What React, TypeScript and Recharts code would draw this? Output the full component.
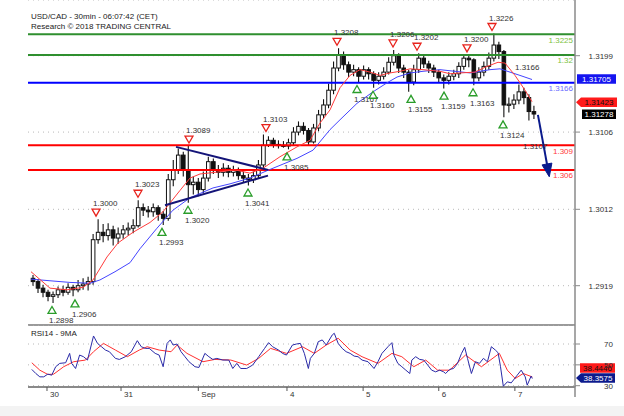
import React from 'react';
import { ComposedChart, Bar, Scatter, XAxis, YAxis, CartesianGrid, ReferenceLine } from 'recharts';

const FONT = "'Liberation Sans', Arial, sans-serif";

// ---------- candles (30-min USD/CAD, sampled) ----------
const opens = [1.2928,1.2924,1.2916,1.2911,1.2906,1.2908,1.2914,1.2911,1.2917,1.2914,1.2919,1.2921,1.2924,1.2975,1.2984,1.2980,1.2987,1.2977,1.2982,1.2987,1.2989,1.2992,1.3014,1.3011,1.3009,1.3014,1.3006,1.3001,1.3048,1.3060,1.3078,1.3060,1.3042,1.3045,1.3036,1.3050,1.3070,1.3060,1.3057,1.3062,1.3057,1.3060,1.3053,1.3050,1.3048,1.3053,1.3066,1.3090,1.3096,1.3091,1.3090,1.3089,1.3093,1.3106,1.3113,1.3108,1.3094,1.3111,1.3127,1.3139,1.3157,1.3184,1.3200,1.3188,1.3179,1.3182,1.3174,1.3182,1.3177,1.3169,1.3174,1.3179,1.3191,1.3199,1.3184,1.3179,1.3167,1.3182,1.3196,1.3189,1.3184,1.3179,1.3172,1.3169,1.3174,1.3177,1.3186,1.3196,1.3194,1.3172,1.3179,1.3186,1.3196,1.3212,1.3204,1.3139,1.3140,1.3145,1.3155,1.3148,1.3131];
const closes = [1.2924,1.2916,1.2911,1.2906,1.2908,1.2914,1.2911,1.2917,1.2914,1.2919,1.2921,1.2924,1.2975,1.2984,1.2980,1.2987,1.2977,1.2982,1.2987,1.2989,1.2992,1.3014,1.3011,1.3009,1.3014,1.3006,1.3001,1.3048,1.3060,1.3078,1.3060,1.3042,1.3045,1.3036,1.3050,1.3070,1.3060,1.3057,1.3062,1.3057,1.3060,1.3053,1.3050,1.3048,1.3053,1.3066,1.3090,1.3096,1.3091,1.3090,1.3089,1.3093,1.3106,1.3113,1.3108,1.3094,1.3111,1.3127,1.3139,1.3157,1.3184,1.3200,1.3188,1.3179,1.3182,1.3174,1.3182,1.3177,1.3169,1.3174,1.3179,1.3191,1.3199,1.3184,1.3179,1.3167,1.3182,1.3196,1.3189,1.3184,1.3179,1.3172,1.3169,1.3174,1.3177,1.3186,1.3196,1.3194,1.3172,1.3179,1.3186,1.3196,1.3212,1.3204,1.3139,1.3140,1.3145,1.3155,1.3148,1.3131,1.3128];
const highs = [1.2932,1.2927,1.2920,1.2914,1.2912,1.2918,1.2919,1.2922,1.2920,1.2926,1.2928,1.2930,1.2982,1.3000,1.2994,1.2995,1.2992,1.2990,1.2993,1.2996,1.3000,1.3023,1.3019,1.3016,1.3019,1.3017,1.3010,1.3055,1.3072,1.3086,1.3082,1.3089,1.3052,1.3050,1.3058,1.3076,1.3074,1.3066,1.3068,1.3066,1.3065,1.3063,1.3058,1.3055,1.3058,1.3072,1.3103,1.3101,1.3099,1.3096,1.3095,1.3098,1.3112,1.3119,1.3118,1.3111,1.3116,1.3133,1.3146,1.3165,1.3192,1.3208,1.3204,1.3192,1.3188,1.3185,1.3187,1.3185,1.3180,1.3179,1.3185,1.3197,1.3206,1.3202,1.3188,1.3182,1.3188,1.3202,1.3199,1.3193,1.3188,1.3182,1.3176,1.3179,1.3182,1.3191,1.3200,1.3199,1.3196,1.3185,1.3192,1.3203,1.3226,1.3216,1.3206,1.3148,1.3152,1.3164,1.3160,1.3152,1.3138];
const lows = [1.2919,1.2910,1.2905,1.2900,1.2898,1.2904,1.2906,1.2908,1.2906,1.2911,1.2914,1.2913,1.2920,1.2970,1.2972,1.2974,1.2968,1.2970,1.2976,1.2980,1.2983,1.2990,1.3004,1.3002,1.3003,1.2998,1.2993,1.2998,1.3040,1.3055,1.3052,1.3020,1.3030,1.3028,1.3032,1.3046,1.3055,1.3050,1.3052,1.3051,1.3052,1.3048,1.3044,1.3041,1.3044,1.3050,1.3062,1.3088,1.3087,1.3086,1.3087,1.3085,1.3090,1.3102,1.3103,1.3090,1.3092,1.3107,1.3122,1.3135,1.3152,1.3180,1.3182,1.3173,1.3174,1.3167,1.3170,1.3170,1.3160,1.3164,1.3170,1.3176,1.3187,1.3178,1.3172,1.3155,1.3163,1.3178,1.3184,1.3178,1.3173,1.3166,1.3159,1.3164,1.3169,1.3172,1.3182,1.3185,1.3163,1.3168,1.3174,1.3182,1.3192,1.3195,1.3124,1.3130,1.3134,1.3140,1.3140,1.3120,1.3122];

// ---------- moving averages on price ----------
const redMaT = [0.6,4.39,7.79,10.98,12.98,15.77,17.97,20.96,24.36,26.95,30.35,32.34,34.34,37.33,41.33,44.32,46.92,50.31,53.7,56.3,58.29,60.29,62.29,64.28,66.28,68.28,70.27,72.27,74.27,76.26,78.86,82.25,84.25,86.24,89.24,91.24,93.83,95.23,97.22,99.22,100.62];
const redMaP = [1.2936,1.2916,1.2914,1.2917,1.2926,1.2954,1.2971,1.2984,1.2996,1.3009,1.3035,1.3050,1.3055,1.3057,1.3060,1.3056,1.3062,1.3076,1.3088,1.3096,1.3117,1.3133,1.3160,1.3175,1.3182,1.3179,1.3175,1.3178,1.3180,1.3183,1.3182,1.3180,1.3177,1.3178,1.3179,1.3185,1.3191,1.3190,1.3175,1.3157,1.3143];
const blueMaT = [0.6,4.39,8.38,12.38,14.37,17.37,20.36,22.36,25.75,28.95,32.34,36.93,40.33,44.32,47.71,53.7,56.9,60.29,62.29,65.68,68.88,71.67,73.67,76.26,78.86,82.25,88.24,92.23,94.23,96.23,98.22,100.62];
const blueMaP = [1.2927,1.2925,1.2923,1.2922,1.2926,1.2936,1.2947,1.2964,1.2989,1.3011,1.3026,1.3038,1.3043,1.3050,1.3059,1.3074,1.3084,1.3109,1.3121,1.3141,1.3155,1.3166,1.3173,1.3178,1.3180,1.3182,1.3178,1.3182,1.3183,1.3179,1.3175,1.3170];

// ---------- pivots ----------
const highT = [13.58, 21.96, 32.14, 47.51, 61.69, 72.87, 77.66, 87.64, 92.63];
const highP = [1.3000, 1.3023, 1.3089, 1.3103, 1.3208, 1.3206, 1.3202, 1.3200, 1.3226];
const lowT = [4.79, 9.38, 26.75, 31.94, 43.92, 51.71, 65.68, 68.88, 76.46, 83.05, 88.84, 94.83];
const lowP = [1.2898, 1.2906, 1.2993, 1.3020, 1.3041, 1.3085, 1.3167, 1.3160, 1.3155, 1.3159, 1.3163, 1.3124];
const noteT = [97.22, 98.82];
const noteP = [1.31852, 1.30891];
const noteText = ['1.3166', '1.3107'];

// ---------- drawings ----------
const wedgeUpT = [29.55, 47.91];
const wedgeUpP = [1.3088, 1.3060];
const wedgeLoT = [27.35, 47.91];
const wedgeLoP = [1.3017, 1.3053];
const arrowT = [101.8, 104.0];
const arrowP = [1.3127, 1.3054];

const levelValues = [1.3225, 1.32, 1.3166, 1.309, 1.306];
const levelLabels = ['1.3225', '1.32', '1.3166', '1.309', '1.306'];

// ---------- axes ----------
const priceTicks = [1.2919, 1.3012, 1.3106, 1.3199];
const dayT = [3.79, 18.57, 34.0, 51.7, 66.9, 82.0, 97.2];
const dayLabels = ['30', '31', 'Sep', '4', '5', '6', '7'];
const rsiTicks = [30, 50, 70];

// ---------- RSI ----------
const rsiT = [0.76,1.56,2.36,3.15,3.95,4.74,5.53,6.33,7.52,8.31,8.71,9.50,10.30,11.09,11.88,13.08,13.87,14.67,15.46,16.25,17.45,18.24,19.43,20.62,21.82,22.61,23.40,24.20,25.39,26.18,26.98,27.77,28.41,28.96,29.76,30.55,31.34,32.14,33.33,34.13,35.31,36.11,36.90,37.70,38.89,40.08,40.88,41.68,42.46,43.66,44.85,46.05,47.23,48.03,48.82,50.02,50.80,51.60,52.79,53.59,54.37,55.17,55.97,56.37,57.16,57.94,58.74,59.54,60.74,61.14,61.92,62.72,63.51,64.31,65.11,65.89,66.69,67.88,69.08,69.86,70.66,71.86,72.65,73.05,73.83,74.63,75.43,76.22,76.62,77.40,78.20,79.00,79.80,80.58,81.38,82.18,82.97,83.37,84.17,84.95,85.75,86.55,87.18,87.74,88.52,89.32,90.12,90.92,91.72,92.50,93.30,93.85,94.33,94.89,95.69,96.47,97.67,98.46,99.26,99.66,100.44,100.68];
const rsiV = [45.6,41.7,38.5,38.5,41.1,40.1,48.2,51.4,52.0,61.0,51.4,46.5,59.4,57.8,54.6,77.7,70.6,67.4,64.2,62.6,56.2,55.2,57.8,62.6,73.2,67.4,65.8,65.8,61.0,59.4,48.2,70.6,73.9,69.0,70.0,62.6,57.8,53.0,48.2,47.5,61.0,57.8,55.2,56.2,54.6,54.6,46.5,51.4,46.5,46.5,49.8,57.8,65.8,71.3,67.4,64.2,61.0,59.4,69.0,70.0,70.6,61.0,46.5,56.2,61.0,72.2,73.9,69.0,78.7,80.3,70.6,65.8,62.6,61.0,58.4,57.8,54.6,53.0,46.5,53.0,61.0,67.4,71.3,59.4,51.4,48.2,44.9,41.7,54.6,57.8,55.2,54.6,49.8,44.9,43.3,44.9,43.3,41.7,45.6,46.5,51.4,61.0,66.8,56.2,41.7,53.0,51.4,56.2,53.0,67.4,64.2,61.6,48.2,29.5,33.7,32.7,40.1,44.9,38.5,30.5,39.2,36.9];
const rsiMaT = [0.76,2.36,3.95,5.13,7.12,9.11,11.49,13.08,15.06,17.45,19.83,22.21,23.80,26.18,28.56,29.76,31.74,34.92,37.30,40.48,43.66,46.05,48.43,51.60,54.78,57.16,59.54,61.92,64.31,66.69,69.86,72.65,74.63,77.01,79.40,81.78,84.17,87.34,90.52,94.10,95.69,97.27,98.86,100.68];
const rsiMaV = [52.0,44.9,40.8,41.1,48.2,53.0,54.6,62.6,70.6,64.2,57.8,64.2,67.4,64.2,62.6,69.0,61.0,53.0,55.2,54.6,49.8,56.2,65.8,61.0,67.4,61.0,69.0,75.5,64.2,57.8,51.4,61.0,57.8,48.2,54.6,44.9,44.9,59.4,48.2,61.0,44.9,36.9,41.7,38.4];

// ---------- layout / style constants ----------
const X_DOMAIN: [number, number] = [0, 109.2];
const PRICE_DOMAIN: [number, number] = [1.287115, 1.326681];
const RSI_DOMAIN: [number, number] = [28.75, 88.23];
const levelColors = ['#2f8f2f', '#2f8f2f', '#0000ff', '#ff0000', '#ff0000'];
const levelTextColors = ['#7cc243', '#7cc243', '#6a6aff', '#ff3a3a', '#ff3a3a'];

const candleData = closes.map((c, i) => ({
  x: i + 1,
  open: opens[i],
  high: highs[i],
  low: lows[i],
  close: c,
  range: [lows[i], highs[i]],
}));
const pts = (ts: number[], vs: number[], extra?: (i: number) => any) =>
  ts.map((t, i) => ({ x: t, y: vs[i], ...(extra ? extra(i) : {}) })).filter((p) => p.y != null);

const redMa = pts(redMaT, redMaP);
const blueMa = pts(blueMaT, blueMaP);
const highPts = pts(highT, highP, (i) => ({ label: highP[i].toFixed(4) }));
const lowPts = pts(lowT, lowP, (i) => ({ label: lowP[i].toFixed(4) }));
const notePts = pts(noteT, noteP, (i) => ({ label: noteText[i] }));
const wedgeUp = pts(wedgeUpT, wedgeUpP);
const wedgeLo = pts(wedgeLoT, wedgeLoP);
const arrowPts = pts(arrowT, arrowP, (i) => ({ head: i === arrowT.length - 1 }));
const rsiPts = pts(rsiT, rsiV);
const rsiMaPts = pts(rsiMaT, rsiMaV);

const Empty = () => <g />;

function Candle(props: any) {
  const { x, y, width, height, payload } = props;
  if (!payload || height == null || isNaN(y)) return <g />;
  const top = Math.min(y, y + height);
  const h = Math.abs(height);
  const span = payload.high - payload.low;
  const k = span > 0 ? h / span : 0;
  const cx = x + width / 2;
  const yO = top + (payload.high - payload.open) * k;
  const yC = top + (payload.high - payload.close) * k;
  const bTop = Math.min(yO, yC);
  const bH = Math.max(1.2, Math.abs(yO - yC));
  const up = payload.close >= payload.open;
  return (
    <g>
      <line x1={cx} x2={cx} y1={top} y2={top + h} stroke="#111" strokeWidth={1.1} />
      <rect x={cx - 1.8} y={bTop} width={3.6} height={bH} fill={up ? '#fff' : '#111'} stroke="#111" strokeWidth={1} />
    </g>
  );
}

function HighMarker(props: any) {
  const { cx, cy, payload } = props;
  return (
    <g>
      <polygon points={`${cx - 4},${cy - 10} ${cx + 4},${cy - 10} ${cx},${cy - 3}`} fill="#fff" stroke="#e8231c" strokeWidth={1.3} />
      <text x={cx - 3} y={cy - 13} fontSize={8} fontFamily={FONT} fill="#333">{payload.label}</text>
    </g>
  );
}

function LowMarker(props: any) {
  const { cx, cy, payload } = props;
  return (
    <g>
      <polygon points={`${cx - 4},${cy + 10.5} ${cx + 4},${cy + 10.5} ${cx},${cy + 3.5}`} fill="#fff" stroke="#2a9d2a" strokeWidth={1.3} />
      <text x={cx - 3} y={cy + 20.5} fontSize={8} fontFamily={FONT} fill="#333">{payload.label}</text>
    </g>
  );
}

function NoteText(props: any) {
  const { cx, cy, payload } = props;
  return <text x={cx} y={cy + 3} fontSize={8} fontFamily={FONT} fill="#333">{payload.label}</text>;
}

function ArrowHead(props: any) {
  const { cx, cy, payload } = props;
  if (!payload || !payload.head) return <g />;
  const ux = 0.18, uy = 0.983;
  const px = 0.983, py = -0.18;
  const tx = cx + ux * 2, ty = cy + uy * 2;
  const bx = tx - ux * 13, by = ty - uy * 13;
  return (
    <polygon
      points={`${tx},${ty} ${bx + px * 5},${by + py * 5} ${bx - px * 5},${by - py * 5}`}
      fill="#0a1a8c"
      stroke="#0a1a8c"
    />
  );
}

function LineTag(props: any) {
  const { viewBox, text, color } = props;
  if (!viewBox) return <g />;
  return (
    <text x={viewBox.x + viewBox.width - 2} y={viewBox.y + 8.5} textAnchor="end" fontSize={8} fontFamily={FONT} fill={color}>
      {text}
    </text>
  );
}

function AxisBox(props: any) {
  const { viewBox, text, bg, fg, arrow, dx = 2, dy = 0, w = 40 } = props;
  if (!viewBox) return <g />;
  const left = viewBox.x + viewBox.width + dx;
  const cy = viewBox.y + dy;
  const h = 9.5;
  const d = arrow
    ? `M${left},${cy} L${left + 5},${cy - h / 2} L${left + w},${cy - h / 2} L${left + w},${cy + h / 2} L${left + 5},${cy + h / 2} Z`
    : `M${left},${cy - h / 2} H${left + w} V${cy + h / 2} H${left} Z`;
  const tx = arrow ? left + 5 + (w - 5) / 2 : left + w / 2;
  return (
    <g>
      <path d={d} fill={bg} />
      <text x={tx} y={cy + 3} textAnchor="middle" fontSize={8} fontFamily={FONT} fill={fg}>
        {text}
      </text>
    </g>
  );
}

function RightTick(props: any) {
  const { x, y, payload, decimals } = props;
  return (
    <text x={x + 30} y={y + 3} textAnchor="end" fontSize={8} fontFamily={FONT} fill="#333">
      {Number(payload.value).toFixed(decimals)}
    </text>
  );
}

function DayTick(props: any) {
  const { x, y, payload } = props;
  const idx = dayT.indexOf(payload.value);
  return (
    <text x={x + 3} y={y + 5.5} fontSize={8} fontFamily={FONT} fill="#333">
      {idx >= 0 ? dayLabels[idx] : ''}
    </text>
  );
}

export default function App() {
  return (
    <div style={{ position: 'fixed', left: 0, top: 0, width: 624, height: 416, background: '#fff', overflow: 'hidden' }}>
      <div style={{ position: 'absolute', left: 0, top: 0 }}>
        <ComposedChart width={624} height={327} data={candleData} margin={{ top: 0, right: 0, bottom: 0, left: 28 }}>
          <CartesianGrid vertical={false} stroke="#b8b8b8" strokeDasharray="1 4" />
          <XAxis dataKey="x" type="number" domain={X_DOMAIN} height={2} tick={false} tickLine={false} axisLine={{ stroke: '#9a9a9a', strokeWidth: 2 }} />
          <YAxis
            orientation="right"
            type="number"
            domain={PRICE_DOMAIN}
            ticks={priceTicks}
            interval={0}
            width={49}
            tickSize={5}
            tickMargin={3}
            axisLine={{ stroke: '#8a8a8a', strokeWidth: 1.5 }}
            tickLine={{ stroke: '#8a8a8a' }}
            tick={<RightTick decimals={4} />}
          />
          {levelValues.map((v, i) => (
            <ReferenceLine
              key={'lv' + i}
              y={v}
              stroke={levelColors[i]}
              strokeWidth={2}
              label={<LineTag text={levelLabels[i]} color={levelTextColors[i]} />}
            />
          ))}
          <Bar dataKey="range" barSize={3} shape={<Candle />} isAnimationActive={false} />
          <Scatter data={blueMa} dataKey="y" fill="#4444ff" line={{ stroke: '#4444ff', strokeWidth: 1 }} shape={Empty} isAnimationActive={false} />
          <Scatter data={redMa} dataKey="y" fill="#ff3b3b" line={{ stroke: '#ff3b3b', strokeWidth: 1 }} shape={Empty} isAnimationActive={false} />
          <Scatter data={wedgeUp} dataKey="y" fill="#141478" line={{ stroke: '#141478', strokeWidth: 2 }} shape={Empty} isAnimationActive={false} />
          <Scatter data={wedgeLo} dataKey="y" fill="#141478" line={{ stroke: '#141478', strokeWidth: 2 }} shape={Empty} isAnimationActive={false} />
          <Scatter data={arrowPts} dataKey="y" fill="#0a1a8c" line={{ stroke: '#0a1a8c', strokeWidth: 2 }} shape={<ArrowHead />} isAnimationActive={false} />
          <Scatter data={highPts} dataKey="y" fill="#e8231c" shape={<HighMarker />} isAnimationActive={false} />
          <Scatter data={lowPts} dataKey="y" fill="#2a9d2a" shape={<LowMarker />} isAnimationActive={false} />
          <Scatter data={notePts} dataKey="y" fill="#333" shape={<NoteText />} isAnimationActive={false} />
          <ReferenceLine y={1.31705} stroke="none" label={<AxisBox text="1.31705" bg="#1414f0" fg="#fff" dx={2} w={39} />} />
          <ReferenceLine y={1.31423} stroke="none" label={<AxisBox text="1.31423" bg="#ff1a1a" fg="#111" arrow dx={1} w={41} />} />
          <ReferenceLine y={1.31278} stroke="none" label={<AxisBox text="1.31278" bg="#000" fg="#fff" dx={7} w={34} />} />
        </ComposedChart>
      </div>
      <div style={{ position: 'absolute', left: 0, top: 325 }}>
        <ComposedChart width={624} height={91} margin={{ top: 0, right: 0, bottom: 0, left: 28 }}>
          <CartesianGrid vertical={false} stroke="#b8b8b8" strokeDasharray="1 4" />
          <XAxis
            dataKey="x"
            type="number"
            domain={X_DOMAIN}
            ticks={dayT}
            interval={0}
            height={29}
            tickSize={4}
            tickMargin={0}
            tickLine={{ stroke: '#555' }}
            axisLine={{ stroke: '#8a8a8a', strokeWidth: 2 }}
            tick={<DayTick />}
          />
          <YAxis
            orientation="right"
            type="number"
            domain={RSI_DOMAIN}
            ticks={rsiTicks}
            interval={0}
            width={49}
            tickSize={5}
            tickMargin={3}
            axisLine={{ stroke: '#8a8a8a', strokeWidth: 1.5 }}
            tickLine={{ stroke: '#8a8a8a' }}
            tick={<RightTick decimals={0} />}
          />
          <Scatter data={rsiMaPts} dataKey="y" fill="#ff3030" line={{ stroke: '#ff3030', strokeWidth: 1 }} shape={Empty} isAnimationActive={false} />
          <Scatter data={rsiPts} dataKey="y" fill="#2a2aa8" line={{ stroke: '#2a2aa8', strokeWidth: 1 }} shape={Empty} isAnimationActive={false} />
          <ReferenceLine y={38.4446} stroke="none" label={<AxisBox text="38.4446" bg="#ff1a1a" fg="#111" dx={5} dy={-9} w={35} />} />
          <ReferenceLine y={38.3575} stroke="none" label={<AxisBox text="38.3575" bg="#0c1a8c" fg="#fff" arrow dx={1} dy={1} w={39} />} />
        </ComposedChart>
      </div>
      <svg width={624} height={416} style={{ position: 'absolute', left: 0, top: 0, pointerEvents: 'none' }}>
        <text x={31} y={19} fontSize={8} fontFamily={FONT} fill="#222">USD/CAD - 30min - 06:07:42 (CET)</text>
        <text x={31} y={28.5} fontSize={8} fontFamily={FONT} fill="#222">Research © 2018 TRADING CENTRAL</text>
        <text x={31} y={336} fontSize={8} fontFamily={FONT} fill="#222">RSI14 - 9MA</text>
        <line x1={575} x2={575} y1={386} y2={397} stroke="#8a8a8a" strokeWidth={1.5} />
        <rect x={0} y={406} width={624} height={10} fill="#f3f3f3" />
      </svg>
    </div>
  );
}
